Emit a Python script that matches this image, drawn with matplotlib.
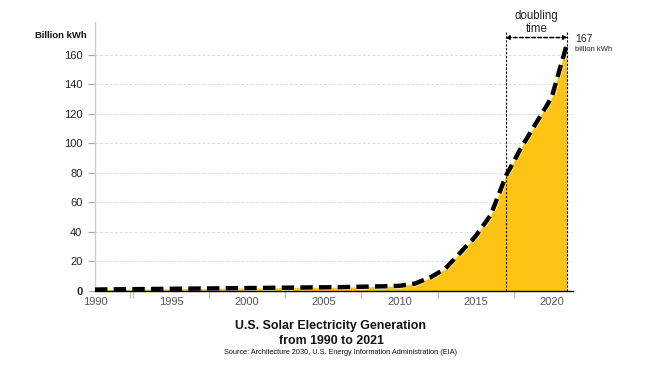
import matplotlib
matplotlib.use('Agg')
import matplotlib.pyplot as plt
import matplotlib.patheffects as pe

plt.rcParams['font.family'] = ['Liberation Sans', 'DejaVu Sans']

years = list(range(1990, 2022))
generation = [1.0, 1.1, 1.2, 1.3, 1.4, 1.5, 1.6, 1.7, 1.8, 1.9,
              2.0, 2.1, 2.2, 2.3, 2.4, 2.5, 2.6, 2.8, 3.0, 3.2,
              3.5, 5.0, 9.0, 15.0, 26.0, 37.0, 51.5, 78.0, 97.0, 114.0,
              131.0, 167.0]
xticks = [1990, 1995, 2000, 2005, 2010, 2015, 2020]
yticks = [0, 20, 40, 60, 80, 100, 120, 140, 160]

fig = plt.figure(figsize=(6.52, 3.67), dpi=100)
ax = fig.add_axes([95 / 652, 0.207, 478 / 652, 0.733])

ax.fill_between(years, generation, 0, color='#fdc416', linewidth=0, zorder=2)
ax.plot(years, generation, color='black', linewidth=3.2, dashes=(2.8, 1.4),
        path_effects=[pe.Stroke(linewidth=4.2, foreground='white'), pe.Normal()],
        zorder=4)

ax.set_xlim(1990, 2021.4)
ax.set_ylim(0, 182)

ax.set_xticks(xticks)
ax.set_xticks([y + 2.5 for y in xticks[:-1]] + [1992.3], minor=True)
ax.set_yticks(yticks)
ax.tick_params(axis='x', which='major', length=0, labelsize=8, labelcolor='#555555', pad=4)
ax.tick_params(axis='x', which='minor', length=5, color='#bbbbbb', width=0.8)
ax.tick_params(axis='y', length=5, color='#aaaaaa', labelsize=8, labelcolor='#222222', pad=4)
labels = ax.get_yticklabels()
labels[0].set_fontweight('bold')

ax.grid(axis='y', color='#dddddd', linestyle=(0, (3, 2)), linewidth=0.7, zorder=0)
for s in ['top', 'right']:
    ax.spines[s].set_visible(False)
ax.spines['left'].set_color('#cccccc')
ax.spines['left'].set_linewidth(1.0)
ax.spines['bottom'].set_color('black')
ax.spines['bottom'].set_linewidth(1.0)
ax.spines['bottom'].set_zorder(5)

# doubling time markers
for x in [2017, 2021]:
    ax.plot([x, x], [0, 176], color='black', linewidth=0.8, linestyle=(0, (2, 1.5)),
            zorder=5, clip_on=False)
ax.annotate('', xy=(2016.95, 171.5), xytext=(2021.05, 171.5),
            arrowprops=dict(arrowstyle='<|-|>', color='black', linewidth=1.1,
                            linestyle=(0, (2.5, 1.5)), mutation_scale=6,
                            shrinkA=0, shrinkB=0),
            annotation_clip=False)
ax.text(2019, 181.5, 'doubling\ntime', ha='center', va='center', fontsize=8.3,
        color='#222222', linespacing=1.15)
ax.text(2021.55, 167, '167', ha='left', va='bottom', fontsize=7.5, color='#222222')
ax.text(2021.55, 166, 'billion kWh', ha='left', va='top', fontsize=5.5, color='#222222')

fig.text(87 / 652, 1 - 36 / 367, 'Billion kWh', ha='right', va='center', fontsize=6.8,
         fontweight='bold', color='#111111')

fig.text(331 / 652, 1 - 333.5 / 367, 'U.S. Solar Electricity Generation\nfrom 1990 to 2021',
         ha='center', va='center', fontsize=8.9, fontweight='bold', color='#111111',
         linespacing=1.25)
fig.text(341 / 652, 1 - 352.5 / 367,
         'Source: Architecture 2030, U.S. Energy Information Administration (EIA)',
         ha='center', va='center', fontsize=5.3, color='#111111')

fig.savefig('out.png', dpi=100)
